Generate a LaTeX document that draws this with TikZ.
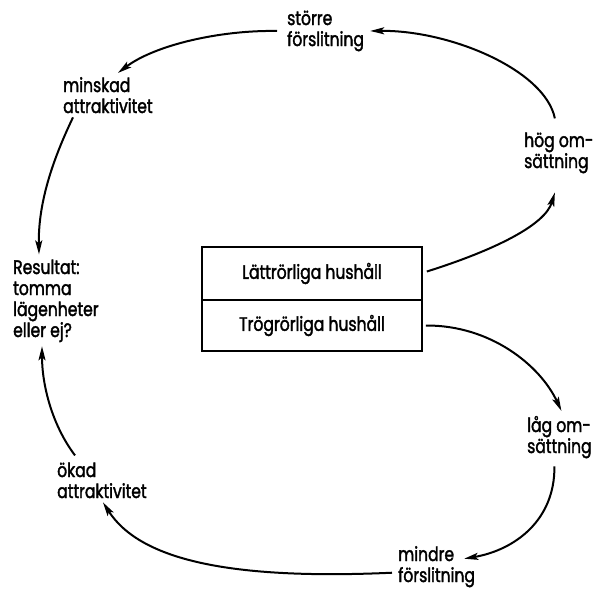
\documentclass[tikz,border=0pt]{standalone}
\usepackage{fontspec}
\setmainfont{Poppins}[FakeStretch=0.8,FakeBold=1.8]
\usetikzlibrary{arrows.meta}
\begin{document}
\begin{tikzpicture}[x=1pt,y=-1pt,
  lbl/.style={anchor=base west,align=left,inner sep=0pt,font=\fontsize{19.5}{21}\selectfont},
  boxpart/.style={draw,line width=1.7pt,minimum width=220pt,inner sep=0pt,font=\fontsize{19.5}{21}\selectfont},
  arr/.style={line width=2pt,-{Stealth[length=14pt,width=7pt,inset=3pt]}}]
\useasboundingbox (0,0) rectangle (593,590);
\node[boxpart,minimum height=53pt] (lat) at (312,273.5) {Lättrörliga hushåll};
\node[boxpart,minimum height=51pt] (trog) at (312,325.5) {Trögrörliga hushåll};
\node[lbl] (storre) at (287,46) {större\\förslitning};
\node[lbl] (minsk) at (63,113) {minskad\\attraktivitet};
\node[lbl] (hog) at (524,168) {hög om-\\sättning};
\node[lbl] (res) at (13,337) {Resultat:\\tomma\\lägenheter\\eller ej?};
\node[lbl] (lag) at (527,453) {låg om-\\sättning};
\node[lbl] (mindre) at (398,582) {mindre\\förslitning};
\node[lbl] (okad) at (57,498) {ökad\\attraktivitet};
\draw[arr] ([xshift=4pt,yshift=2pt]lat.east) .. controls (495,250) and (545,225) .. ([xshift=-4pt,yshift=-19pt]hog.south);
\draw[arr] ([xshift=-4pt,yshift=14pt]hog.north) .. controls (545,70) and (450,30) .. ([xshift=6pt]storre.east);
\draw[arr] ([xshift=-10pt]storre.west) .. controls (220,30) and (155,45) .. ([xshift=10pt,yshift=4pt]minsk.north);
\draw[arr] ([xshift=10pt,yshift=-4pt]minsk.south west) .. controls (55,155) and (38,200) .. ([xshift=26pt,yshift=5pt]res.north west);
\draw[arr] ([xshift=18pt,yshift=7pt]okad.north west) .. controls (52,425) and (42,385) .. ([xshift=29pt,yshift=-4pt]res.south west);
\draw[arr] ([xshift=-6pt,yshift=-6pt]mindre.west) .. controls (230,580) and (140,560) .. ([xshift=46pt,yshift=-4pt]okad.south west);
\draw[arr] ([xshift=-5pt,yshift=-8pt]lag.south) .. controls (555,520) and (515,550) .. ([xshift=-11pt,yshift=8pt]mindre.east);
\draw[arr] ([xshift=3pt]trog.east) .. controls (490,325) and (540,365) .. ([xshift=2pt,yshift=5pt]lag.north);
\end{tikzpicture}
\end{document}
